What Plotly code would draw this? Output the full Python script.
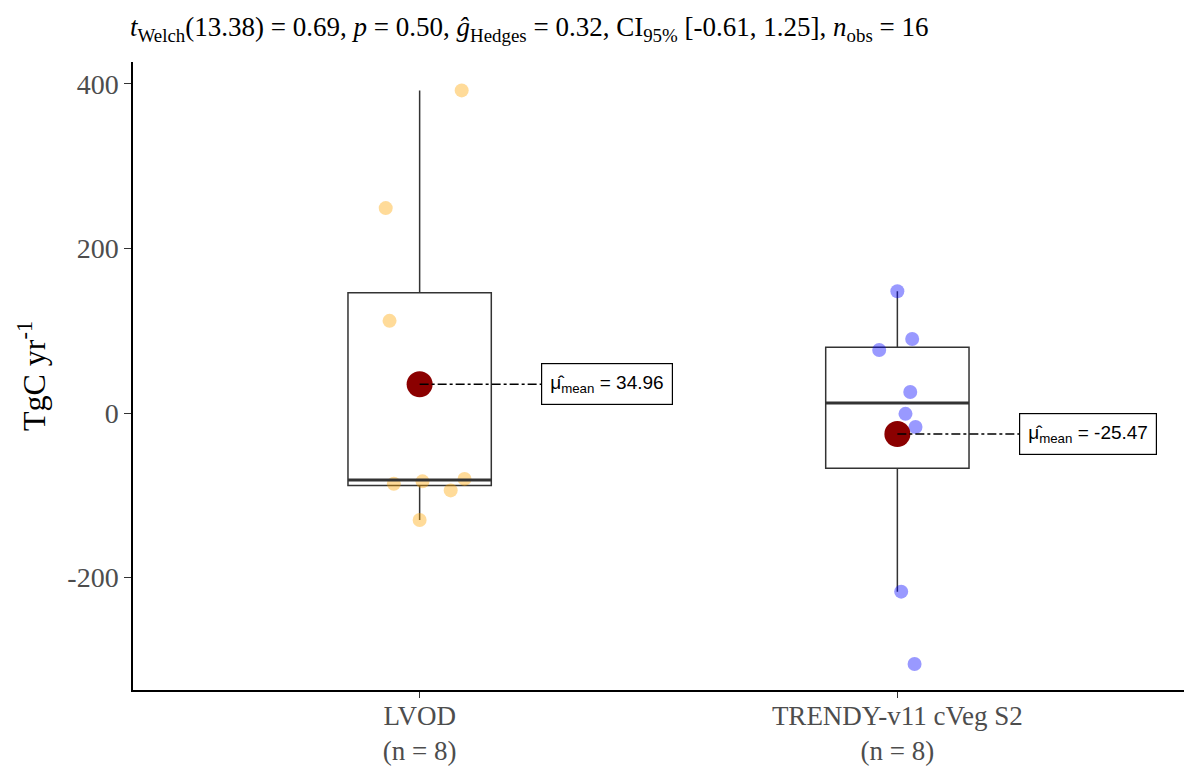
import numpy as np
import plotly.graph_objects as go

# ---- data ----
categories = ["LVOD", "TRENDY-v11 cVeg S2"]
n_labels = ["(n = 8)", "(n = 8)"]
lvod_values = [392, 249, 112, -86, -83, -94, -80, -130]
lvod_jitter = [0.088, -0.071, -0.063, -0.054, 0.006, 0.065, 0.094, 0.0]
trendy_values = [148, 90, 76.5, 25.5, -1, -17, -217, -305]
trendy_jitter = [0.0, 0.031, -0.038, 0.027, 0.017, 0.038, 0.008, 0.036]
means = [34.96, -25.47]
mean_labels = ["34.96", "-25.47"]
y_ticks = [-200, 0, 200, 400]
y_ticktext = ["-200", "0", "200", "400"]
point_colors = ["rgba(255,165,0,0.4)", "rgba(0,0,255,0.4)"]

groups = [lvod_values, trendy_values]
jitters = [lvod_jitter, trendy_jitter]

W, H = 1184, 769

fig = go.Figure()

serif = "Liberation Serif, Times New Roman, serif"
sans = "Liberation Sans, Arial, sans-serif"

# jittered points
for i, (vals, jit) in enumerate(zip(groups, jitters)):
    pos = i + 1
    fig.add_trace(go.Scatter(
        x=[pos + j for j in jit], y=vals, mode="markers",
        marker=dict(size=14, color=point_colors[i], line=dict(width=0)),
        hoverinfo="skip", showlegend=False))

# boxes
box_w = 0.3
for i, vals in enumerate(groups):
    pos = i + 1
    a = np.array(vals, dtype=float)
    q1, med, q3 = np.percentile(a, [25, 50, 75])
    iqr = q3 - q1
    lf = a[a >= q1 - 1.5 * iqr].min()
    uf = a[a <= q3 + 1.5 * iqr].max()
    fig.add_trace(go.Box(
        x=[pos], q1=[q1], median=[med], q3=[q3], lowerfence=[lf], upperfence=[uf],
        width=box_w, whiskerwidth=0, fillcolor="rgba(0,0,0,0)",
        line=dict(color="#333333", width=1.5), boxpoints=False,
        hoverinfo="skip", showlegend=False))
    fig.add_trace(go.Scatter(
        x=[pos - box_w / 2, pos + box_w / 2], y=[med, med], mode="lines",
        line=dict(color="#333333", width=3), hoverinfo="skip", showlegend=False))

# means
label_off = 0.255
for i, m in enumerate(means):
    pos = i + 1
    fig.add_trace(go.Scatter(
        x=[pos], y=[m], mode="markers",
        marker=dict(size=26, color="#8B0000"), hoverinfo="skip", showlegend=False))
    fig.add_trace(go.Scatter(
        x=[pos, pos + label_off], y=[m, m], mode="lines",
        line=dict(color="black", width=1.3, dash="dashdot"),
        hoverinfo="skip", showlegend=False))
    fig.add_annotation(
        x=pos + label_off, y=m, xref="x", yref="y", xanchor="left", yanchor="middle",
        text="μ̂<sub>mean</sub> = " + mean_labels[i], showarrow=False,
        font=dict(family=sans, size=19, color="black"),
        bordercolor="black", borderwidth=1.2, borderpad=8, bgcolor="white")

title_text = ("<i>t</i><sub>Welch</sub>(13.38) = 0.69, <i>p</i> = 0.50, "
              "<i>ĝ</i><sub>Hedges</sub> = 0.32, CI<sub>95%</sub> [-0.61, 1.25], "
              "<i>n</i><sub>obs</sub> = 16")

fig.update_layout(
    width=W, height=H,
    margin=dict(l=133, r=0, t=62, b=79, autoexpand=False),
    plot_bgcolor="white", paper_bgcolor="white",
    showlegend=False,
    title=dict(text=title_text, x=130 / W, xref="container", xanchor="left",
               y=1 - 27 / H, yref="container", yanchor="middle",
               font=dict(family=serif, size=27, color="black")),
    xaxis=dict(range=[0.4, 2.6], tickvals=[1, 2],
               ticktext=[c + "<br>" + n for c, n in zip(categories, n_labels)],
               showline=True, linecolor="black", linewidth=1.5,
               ticks="outside", ticklen=6, tickcolor="#333333", tickwidth=1.2,
               ticklabelstandoff=-5,
               tickfont=dict(family=serif, size=27, color="#4D4D4D"),
               showgrid=False, zeroline=False, automargin=False),
    yaxis=dict(range=[-336.5, 426.5], tickvals=y_ticks, ticktext=y_ticktext,
               showline=True, linecolor="black", linewidth=1.5,
               ticks="outside", ticklen=7, tickcolor="#333333", tickwidth=1.2,
               tickfont=dict(family=serif, size=28, color="#4D4D4D"),
               showgrid=False, zeroline=False, automargin=False,
               title=dict(text="TgC yr<sup>-1</sup>", standoff=12,
                          font=dict(family=serif, size=32, color="black"))),
)

fig.write_html("out.html",
               config={"displayModeBar": False},
               post_script="document.body.style.margin='0';"
                           "document.body.style.overflow='hidden';")
